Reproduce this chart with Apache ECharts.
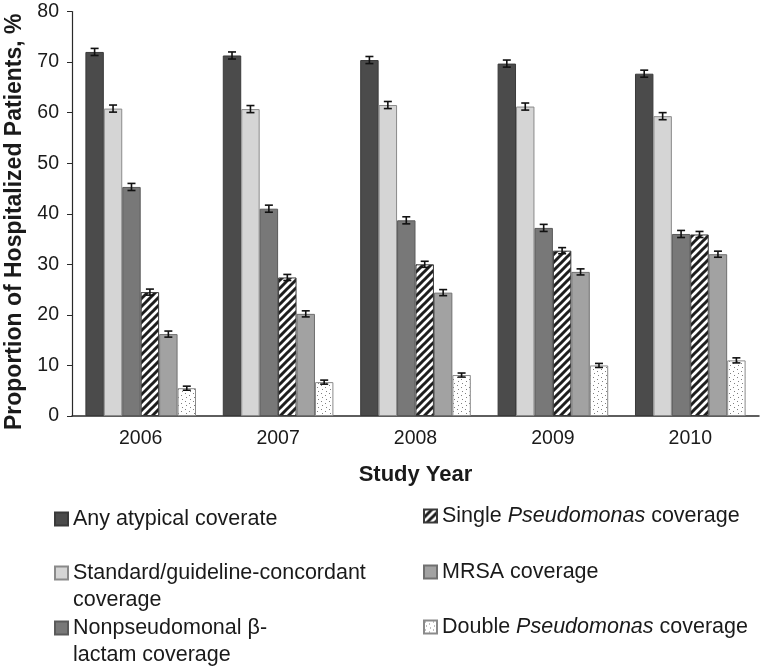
<!DOCTYPE html>
<html>
<head>
<meta charset="utf-8">
<script src="https://cdn.jsdelivr.net/npm/echarts@6/dist/echarts.min.js"></script>
<style>html,body{margin:0;padding:0;background:#fff}#c{width:761px;height:668px}</style>
</head>
<body>
<div id="c"></div>
<script>
var categories = ['2006', '2007', '2008', '2009', '2010'];
var seriesNames = ['Any atypical coverate', 'Standard/guideline-concordant coverage', 'Nonpseudomonal β-lactam coverage', 'Single Pseudomonas coverage', 'MRSA coverage', 'Double Pseudomonas coverage'];
var anyAtypical = [72.0, 71.3, 70.4, 69.7, 67.7];
var standardCoverage = [60.8, 60.7, 61.5, 61.2, 59.3];
var nonpseudomonal = [45.3, 41.0, 38.7, 37.2, 36.0];
var singlePseudomonas = [24.5, 27.4, 30.0, 32.7, 35.9];
var mrsaCoverage = [16.2, 20.2, 24.4, 28.5, 32.0];
var doublePseudomonas = [5.5, 6.7, 8.1, 10.0, 11.0];
var errAny = [0.7, 0.7, 0.7, 0.7, 0.7];
var errStandard = [0.7, 0.7, 0.7, 0.7, 0.7];
var errNonpseudo = [0.7, 0.7, 0.7, 0.7, 0.7];
var errSingle = [0.6, 0.6, 0.6, 0.6, 0.6];
var errMrsa = [0.6, 0.6, 0.6, 0.6, 0.6];
var errDouble = [0.4, 0.4, 0.4, 0.4, 0.5];
var yTicks = [0, 10, 20, 30, 40, 50, 60, 70, 80];

var values = [anyAtypical, standardCoverage, nonpseudomonal, singlePseudomonas, mrsaCoverage, doublePseudomonas];
var errors = [errAny, errStandard, errNonpseudo, errSingle, errMrsa, errDouble];

function makeHatch() {
  var c = document.createElement('canvas');
  c.width = 8; c.height = 8;
  var g = c.getContext('2d');
  g.fillStyle = '#ffffff'; g.fillRect(0, 0, 8, 8);
  g.strokeStyle = '#1e1e1e'; g.lineWidth = 3;
  g.beginPath();
  g.moveTo(-2, 10); g.lineTo(10, -2);
  g.moveTo(-6, 6); g.lineTo(6, -6);
  g.moveTo(2, 14); g.lineTo(14, 2);
  g.stroke();
  return c;
}
function makeDots() {
  var c = document.createElement('canvas');
  c.width = 8; c.height = 8;
  var g = c.getContext('2d');
  g.fillStyle = '#ffffff'; g.fillRect(0, 0, 8, 8);
  g.fillStyle = '#808080';
  g.fillRect(1, 1, 1, 1);
  g.fillRect(5, 3, 1, 1);
  g.fillRect(2, 5, 1, 1);
  g.fillRect(6, 7, 1, 1);
  return c;
}

var fills = [
  '#4b4b4b',
  '#d5d5d5',
  '#787878',
  { image: makeHatch(), repeat: 'repeat' },
  '#a2a2a2',
  { image: makeDots(), repeat: 'repeat' }
];
var borders = ['#3a3a3a', '#8a8a8a', '#5a5a5a', '#3a3a3a', '#707070', '#8a8a8a'];

var nSeries = 6;
var catGap = 0.195;

var series = [];
for (var s = 0; s < nSeries; s++) {
  series.push({
    name: seriesNames[s],
    type: 'bar',
    data: values[s],
    barGap: '0%',
    barCategoryGap: (catGap * 100) + '%',
    itemStyle: { color: fills[s], borderColor: borders[s], borderWidth: 1 },
    emphasis: { disabled: true },
    z: 2
  });
}
for (var s2 = 0; s2 < nSeries; s2++) {
  (function (si) {
    var d = values[si].map(function (v, i) { return [i, v, errors[si][i]]; });
    series.push({
      type: 'custom',
      name: seriesNames[si] + ' error',
      data: d,
      z: 5,
      silent: true,
      renderItem: function (params, api) {
        var ci = api.value(0), v = api.value(1), e = api.value(2);
        var bandW = api.size([1, 0])[0];
        var bw = bandW * (1 - catGap) / nSeries;
        var center = api.coord([ci, v]);
        var cx = center[0] - bandW * (1 - catGap) / 2 + bw * (si + 0.5);
        var top = api.coord([ci, v + e])[1];
        var bot = api.coord([ci, v - e])[1];
        var hw = 4;
        var st = { stroke: '#111111', lineWidth: 1.6 };
        return {
          type: 'group',
          children: [
            { type: 'line', shape: { x1: cx, y1: top, x2: cx, y2: bot }, style: st },
            { type: 'line', shape: { x1: cx - hw, y1: top, x2: cx + hw, y2: top }, style: st },
            { type: 'line', shape: { x1: cx - hw, y1: bot, x2: cx + hw, y2: bot }, style: st }
          ]
        };
      }
    });
  })(s2);
}

var txt = '#1a1a1a';
var lgFont = 21.5;
var lgLine = 27;
function richSet() {
  return {
    n: { fontSize: lgFont, color: txt, fontFamily: 'Liberation Sans, Arial, sans-serif', lineHeight: lgLine },
    i: { fontSize: lgFont, color: txt, fontStyle: 'italic', fontFamily: 'Liberation Sans, Arial, sans-serif', lineHeight: lgLine }
  };
}
var legendDefs = [
  { idx: 0, left: 54, center: 519, lines: 1, fmt: '{n|Any atypical coverate}' },
  { idx: 1, left: 54, center: 573, lines: 2, fmt: '{n|Standard/guideline-concordant}\n{n|coverage}' },
  { idx: 2, left: 54, center: 628, lines: 2, fmt: '{n|Nonpseudomonal β-}\n{n|lactam coverage}' },
  { idx: 3, left: 423, center: 516, lines: 1, fmt: '{n|Single }{i|Pseudomonas}{n| coverage}' },
  { idx: 4, left: 423, center: 572, lines: 1, fmt: '{n|MRSA coverage}' },
  { idx: 5, left: 423, center: 627, lines: 1, fmt: '{n|Double }{i|Pseudomonas}{n| coverage}' }
];
var legends = legendDefs.map(function (L) {
  var padTop = L.lines === 2 ? lgLine : 0;
  var boxH = L.lines * lgLine + padTop;
  return {
    data: [seriesNames[L.idx]],
    left: L.left,
    top: L.center - boxH / 2,
    padding: 0,
    orient: 'vertical',
    icon: 'rect',
    itemWidth: 13,
    itemHeight: 13,
    selectedMode: false,
    formatter: function () { return L.fmt; },
    textStyle: {
      fontSize: lgFont, color: txt, lineHeight: lgLine,
      padding: [padTop, 0, 0, 0],
      rich: richSet()
    }
  };
});

var chart = echarts.init(document.getElementById('c'), null, { renderer: 'canvas' });
chart.setOption({
  animation: false,
  backgroundColor: '#ffffff',
  textStyle: { fontFamily: 'Liberation Sans, Arial, sans-serif' },
  legend: legends,
  grid: { left: 72, right: 2, top: 11.5, bottom: 252, containLabel: false, outerBoundsMode: 'none' },
  xAxis: {
    type: 'category',
    data: categories,
    name: 'Study Year',
    nameLocation: 'middle',
    nameGap: 48,
    nameTextStyle: { fontSize: 22, fontWeight: 'bold', color: txt },
    axisLine: { lineStyle: { color: '#2a2a2a', width: 1.5 } },
    axisTick: { show: false },
    axisLabel: { fontSize: 19.5, color: txt, margin: 13 }
  },
  yAxis: {
    type: 'value',
    min: 0, max: 80, interval: 10,
    name: 'Proportion of Hospitalized Patients, %',
    nameLocation: 'middle',
    nameGap: 39,
    nameTextStyle: { fontSize: 23, fontWeight: 'bold', color: txt, padding: [0, 16, 0, 0] },
    axisLine: { show: true, lineStyle: { color: '#2a2a2a', width: 1.2 } },
    axisTick: { show: true, length: 5, lineStyle: { color: '#2a2a2a' } },
    splitLine: { show: false },
    axisLabel: {
      fontSize: 19.5, color: txt, margin: 13,
      formatter: function (v) { return yTicks.indexOf(v) >= 0 ? String(v) : ''; }
    }
  },
  series: series
});
</script>
</body>
</html>
